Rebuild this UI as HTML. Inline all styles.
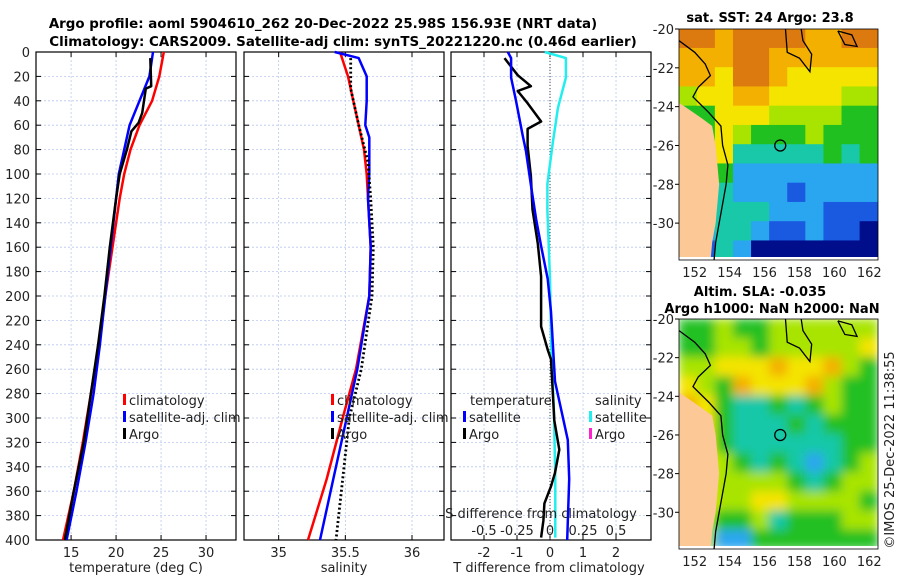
<!DOCTYPE html>
<html><head><meta charset="utf-8"><style>
body{margin:0;background:#fff;}
svg{display:block;font-family:"DejaVu Sans","Liberation Sans",sans-serif;}
</style></head><body>
<svg id="c" width="900" height="580" viewBox="0 0 900 580" xmlns="http://www.w3.org/2000/svg"></svg>
<script>
// ---- data ----
const depthTicks=[0,20,40,60,80,100,120,140,160,180,200,220,240,260,280,300,320,340,360,380,400];
const tempTicks=[15,20,25,30];
const salTicks=[35,35.5,36];
const salTickLabels=["35","35.5","36"];
const tdTicks=[-2,-1,0,1,2];
const sdTicks=[-0.5,-0.25,0,0.25,0.5];
const sdTickLabels=["-0.5","-0.25","0","0.25","0.5"];

const tClimDepth=[0,20,40,60,80,100,120,160,200,240,280,320,360,400];
const tClim=[25.3,24.8,24.0,22.6,21.6,20.9,20.4,19.6,18.8,18.1,17.2,16.3,15.3,14.1];
const tSatDepth=[0,20,40,60,80,100,120,160,200,240,280,320,360,400];
const tSat=[24.1,23.7,22.6,21.5,20.9,20.3,20.0,19.4,18.8,18.2,17.5,16.6,15.6,14.5];
const tArgoDepth=[5,28,30,50,58,65,80,100,120,160,200,240,280,320,360,380,400];
const tArgo=[23.8,23.9,23.3,22.9,22.5,21.7,21.2,20.4,20.0,19.3,18.7,18.0,17.2,16.4,15.3,14.8,14.3];

const sClimDepth=[0,20,40,60,80,100,120,160,200,260,300,350,400];
const sClim=[35.46,35.52,35.56,35.6,35.64,35.66,35.67,35.69,35.68,35.58,35.48,35.36,35.22];
const sSatDepth=[0,5,20,40,60,70,100,120,160,200,260,300,350,400];
const sSat=[35.42,35.6,35.66,35.66,35.65,35.68,35.68,35.67,35.69,35.68,35.59,35.51,35.41,35.31];
const sArgoDepth=[5,30,60,90,120,160,200,260,300,350,400];
const sArgo=[35.54,35.54,35.6,35.67,35.69,35.71,35.7,35.62,35.53,35.48,35.43];

const tdSatDepth=[0,5,21,40,68,81,109,137,159,186,213,260,270,318,350,400];
const tdSat=[-1.28,-1.18,-1.18,-1.03,-0.83,-0.73,-0.58,-0.42,-0.27,-0.07,0.03,0.13,0.15,0.54,0.58,0.52];
const tdArgoDepth=[5,19,28,32,42,57,63,77,102,129,157,184,211,225,244,252,302,326,345,356,370,384,398];
const tdArgo=[-1.38,-0.98,-0.58,-0.98,-0.68,-0.27,-0.68,-0.68,-0.58,-0.53,-0.37,-0.27,-0.27,-0.27,-0.07,0.03,0.13,0.28,0.15,0.03,-0.17,-0.2,-0.27];
const sdSatDepth=[0,5,21,46,75,108,130,186,241,296,351,398];
const sdSat=[-0.04,0.12,0.12,0.06,0.02,-0.02,-0.02,0,0.01,0.03,0.04,0.04];

const lonTicks=[152,154,156,158,160,162];
const latTicks=[-20,-22,-24,-26,-28,-30];
const sstGrid=[
"88788887788","77788777777","77688766666","56677666655","44666555544","44654445444",
"44633333434","44422222222","33322212222","33333222111","22332112110","11320000000"];
const slaGrid=[
"44544555555","44554555556","55666766754","65476667544","76433434544","76433343444",
"76433333344","76543432345","76555543455","66556655554","65445344455","65224444444"];
const palette=["#000e8c","#1a5ae0","#2aa6f0","#18c8a8","#20c020","#a8e400","#f4e400","#f4b000","#dc7a10"];

// ---- helpers ----
const svg=document.getElementById('c');
const NS="http://www.w3.org/2000/svg";
function mk(tag,attrs,parent){const e=document.createElementNS(NS,tag);for(const k in attrs)e.setAttribute(k,attrs[k]);(parent||svg).appendChild(e);return e;}
function txt(s,x,y,opt,parent){const e=mk('text',Object.assign({x:x,y:y,'font-size':13,fill:'#222'},opt||{}),parent);e.textContent=s;return e;}

const Y0=52,Y1=540;
function yD(d){return Y0+(Y1-Y0)*d/400;}
function scale(a,b,px0,px1){return v=>px0+(v-a)/(b-a)*(px1-px0);}
const xT=scale(11.1,33.33,36,236);
const xS=scale(34.74,36.24,244,444);
const xTD=scale(-3,3.06,451,651);
const xSD=v=>xTD(v*4);

function panel(name,x0,x1,xs,ticks,labels,ylabels){
  const g=mk('g',{});
  
  
  for(const d of depthTicks){ if(d>0&&d<400) mk('line',{x1:x0,x2:x1,y1:yD(d),y2:yD(d),stroke:'#b8c8ee','stroke-width':0.8,'stroke-dasharray':'2,2'},g);
    mk('line',{x1:x0,x2:x0+5,y1:yD(d),y2:yD(d),stroke:'#000'},g);mk('line',{x1:x1-5,x2:x1,y1:yD(d),y2:yD(d),stroke:'#000'},g);
    if(ylabels){const t=txt(String(d),30,yD(d)+5,{'text-anchor':'end'},g);}}
  ticks.forEach((v,i)=>{const x=xs(v);mk('line',{x1:x,x2:x,y1:Y0,y2:Y1,stroke:'#b8c8ee','stroke-width':0.8,'stroke-dasharray':'2,2'},g);
    mk('line',{x1:x,x2:x,y1:Y1,y2:Y1-5,stroke:'#000'},g);mk('line',{x1:x,x2:x,y1:Y0,y2:Y0+5,stroke:'#000'},g);
    const t=txt(labels[i],x,557,{'text-anchor':'middle'},g);});
  mk('rect',{x:x0,y:Y0,width:x1-x0,height:Y1-Y0,fill:'none',stroke:'#000','stroke-width':1.2},g);
  return g;
}
function line(name,xs,vals,depths,color,w,dash){
  const p=vals.map((v,i)=>xs(v).toFixed(1)+','+yD(depths[i]).toFixed(1)).join(' ');
  const e=mk('polyline',{points:p,fill:'none',stroke:color,'stroke-width':w,'stroke-linejoin':'round'});
  if(dash)e.setAttribute('stroke-dasharray',dash);
  
  
}
function legend(items,x,y){items.forEach((it,i)=>{const yy=y+i*17;
  if(it[1]) mk('rect',{x:x,y:yy-11,width:3,height:11,fill:it[1]});
  const t=txt(it[0],x+(it[1]?6:0),yy,{});});}

// titles
let t=txt("Argo profile: aoml 5904610_262 20-Dec-2022 25.98S 156.93E (NRT data)",323,28,{'text-anchor':'middle','font-weight':'bold',fill:'#000','font-size':13.4});

t=txt("Climatology: CARS2009. Satellite-adj clim: synTS_20221220.nc (0.46d earlier)",343,46,{'text-anchor':'middle','font-weight':'bold',fill:'#000','font-size':13.4});


// panel 1
panel('temperature-panel',36,236,xT,tempTicks,tempTicks.map(String),true);
line('temp-climatology',xT,tClim,tClimDepth,'#f00',2.5);
line('temp-satellite',xT,tSat,tSatDepth,'#00f',2.5);
line('temp-argo',xT,tArgo,tArgoDepth,'#000',2.5);
legend([["climatology","#f00"],["satellite-adj. clim","#00f"],["Argo","#000"]],123,405);
t=txt("temperature (deg C)",136,572,{'text-anchor':'middle'});

// panel 2
panel('salinity-panel',244,444,xS,salTicks,salTickLabels,false);
line('sal-climatology',xS,sClim,sClimDepth,'#f00',2.5);
line('sal-satellite',xS,sSat,sSatDepth,'#00f',2.5);
line('sal-argo',xS,sArgo,sArgoDepth,'#000',2.8,'2,2.5');
legend([["climatology","#f00"],["satellite-adj. clim","#00f"],["Argo","#000"]],331,405);
t=txt("salinity",344,572,{'text-anchor':'middle'});

// panel 3
panel('difference-panel',451,651,xTD,tdTicks,tdTicks.map(String),false);
mk('line',{x1:xTD(0),x2:xTD(0),y1:Y0,y2:Y1,stroke:'#444','stroke-width':1,'stroke-dasharray':'1,2'});
line('sdiff-satellite',xSD,sdSat,sdSatDepth,'#22eeee',2.5);
line('tdiff-argo',xTD,tdArgo,tdArgoDepth,'#000',2.5);
line('tdiff-satellite',xTD,tdSat,tdSatDepth,'#00f',2.5);
txt("temperature",470,405,{});
legend([["satellite","#00f"],["Argo","#000"]],463,422);
txt("salinity",595,405,{});
legend([["satellite","#22eeee"],["Argo","#ff22cc"]],589,422);
t=txt("S difference from climatology",541,518,{'text-anchor':'middle'});
sdTicks.forEach((v,i)=>{const e=txt(sdTickLabels[i],xSD(v),535,{'text-anchor':'middle'});});
t=txt("T difference from climatology",549,572,{'text-anchor':'middle'});

// maps
const defs=mk('defs',{});
const f=mk('filter',{id:'bl',x:'0',y:'0',width:'1',height:'1'},defs);
mk('feGaussianBlur',{stdDeviation:5,edgeMode:'duplicate'},f);
function map(name,grid,y0,y1,blur){
  const x0=679,x1=878;
  const cp=mk('clipPath',{id:'clip-'+name},defs);
  mk('rect',{x:x0,y:y0,width:x1-x0,height:y1-y0},cp);
  const g=mk('g',{});
  
  
  const lx=scale(151.1,162.5,x0,x1), ly=v=>y0+(-20-v)*(y1-y0)/11.9;
  const inner=mk('g',{'clip-path':'url(#clip-'+name+')'},g);
  const cg=mk('g',blur?{filter:'url(#bl)'}:{},inner);
  const cw=(x1-x0)/11,ch=(y1-y0)/12;
  grid.forEach((row,r)=>{for(let c=0;c<row.length;c++){mk('rect',{x:x0+c*cw-0.3,y:y0+r*ch-0.3,width:cw+0.6,height:ch+0.6,fill:palette[+row[c]]},cg);}});
  const land=[[151.1,-23.8],[151.6,-24.1],[152.4,-24.6],[153,-25],[153.2,-26],[153.3,-27],[153.4,-28],[153.3,-29],[153.2,-30],[153,-31],[152.9,-32],[151.1,-32]];
  mk('polygon',{points:land.map(p=>lx(p[0])+','+ly(p[1])).join(' '),fill:'#fcc896'},inner);
  mk('rect',{x:x0,y:y1-3,width:x1-x0,height:3,fill:'#fff'},inner);
  const coast=[[151.1,-20.6],[152,-21.2],[152.6,-21.8],[152.9,-22.4],[152.2,-23],[151.9,-23.5],[152.8,-24.3],[153.5,-25],[153.6,-26],[153.9,-27],[153.8,-28],[153.6,-29],[153.4,-30],[153.2,-31],[153.1,-32]];
  mk('polyline',{points:coast.map(p=>lx(p[0])+','+ly(p[1])).join(' '),fill:'none',stroke:'#000','stroke-width':1.3},inner);
  const c2=[[157.2,-20],[157.3,-21.2],[158,-21.5],[158.6,-22.2],[158.7,-21.3],[158.2,-20.6],[158.1,-20]];
  mk('polyline',{points:c2.map(p=>lx(p[0])+','+ly(p[1])).join(' '),fill:'none',stroke:'#000','stroke-width':1.3},inner);
  const c3=[[160.2,-20.1],[161,-20.3],[161.3,-20.9],[160.6,-20.8],[160.2,-20.1]];
  mk('polyline',{points:c3.map(p=>lx(p[0])+','+ly(p[1])).join(' '),fill:'none',stroke:'#000','stroke-width':1.3},inner);
  mk('circle',{cx:lx(156.9),cy:ly(-26),r:5.5,fill:'none',stroke:'#000','stroke-width':1.3},inner);
  mk('rect',{x:x0,y:y0,width:x1-x0,height:y1-y0,fill:'none',stroke:'#000','stroke-width':0.8},g);
  latTicks.forEach(v=>{mk('line',{x1:x0-4,x2:x0,y1:ly(v),y2:ly(v),stroke:'#000'},g);const e=txt(String(v),674,ly(v)+5,{'text-anchor':'end'},g);});
  lonTicks.forEach(v=>{const e=txt(String(v),lx(v),y1+17,{'text-anchor':'middle'},g);});
}
map('sst-map',sstGrid,29,260,false);
map('sla-map',slaGrid,319,549,true);
t=txt("sat. SST: 24 Argo: 23.8",770,22,{'text-anchor':'middle','font-weight':'bold',fill:'#000'});
t=txt("Altim. SLA: -0.035",760,296,{'text-anchor':'middle','font-weight':'bold',fill:'#000'});
t=txt("Argo h1000: NaN h2000: NaN",772,313,{'text-anchor':'middle','font-weight':'bold',fill:'#000'});
t=txt("©IMOS 25-Dec-2022 11:38:55",0,0,{'text-anchor':'middle',transform:'translate(894,450) rotate(-90)'});
</script>
</body></html>
